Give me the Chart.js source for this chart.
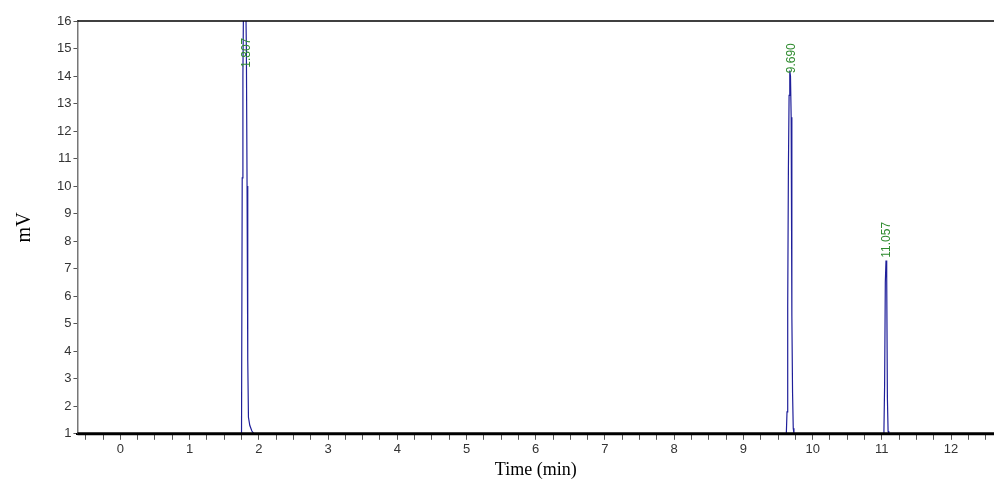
<!DOCTYPE html>
<html>
<head>
<meta charset="utf-8">
<script src="https://cdn.jsdelivr.net/npm/chart.js@4"></script>
<style>
  html, body { margin: 0; padding: 0; background: #fff; }
  #wrap { width: 994px; height: 489px; }
</style>
</head>
<body>
<div id="wrap"><canvas id="c"></canvas></div>
<script>
// signal trace, time (min) vs mV
var traceTime = [-0.62, 1.74, 1.75, 1.76, 1.77, 1.78, 1.80, 1.81, 1.82, 1.83, 1.84, 1.85, 1.87, 1.90, 1.93,
  9.62, 9.63, 9.64, 9.65, 9.66, 9.67, 9.68, 9.69, 9.70, 9.71, 9.72, 9.73,
  11.02, 11.03, 11.04, 11.05, 11.06, 11.07, 11.08, 11.09, 11.10, 12.62];
var traceMv = [1, 1, 1, 10.3, 14, 17, 18, 17, 15, 10, 3.7, 1.6, 1.3, 1.1, 1,
  1, 1.8, 5.6, 10.6, 13.3, 14.2, 14.0, 12.5, 5.3, 2.5, 1.2, 1,
  1, 1.1, 2.8, 6.5, 7.3, 6.7, 2.3, 1.1, 1, 1];

var peakTimes = [1.807, 9.690, 11.057];
var peakLabels = ['1.807', '9.690', '11.057'];
var peakTop = [14.3, 14.1, 7.4];

var xTicks = [0, 1, 2, 3, 4, 5, 6, 7, 8, 9, 10, 11, 12];
var yTicks = [1, 2, 3, 4, 5, 6, 7, 8, 9, 10, 11, 12, 13, 14, 15, 16];

var peakLabelPlugin = {
  id: 'peakLabels',
  afterDatasetsDraw: function (chart) {
    var ctx = chart.ctx;
    var xs = chart.scales.x, ys = chart.scales.y;
    ctx.save();
    ctx.fillStyle = '#2e8b2e';
    ctx.font = '12px "Liberation Sans Narrow", "Liberation Sans", sans-serif';
    ctx.textAlign = 'left';
    ctx.textBaseline = 'middle';
    peakTimes.forEach(function (t, i) {
      var px = xs.getPixelForValue(t) + 1;
      var py = ys.getPixelForValue(peakTop[i]);
      ctx.save();
      ctx.translate(px, py);
      ctx.rotate(-Math.PI / 2);
      ctx.fillText(peakLabels[i], 0, 0);
      ctx.restore();
    });
    ctx.restore();
  }
};

var frame = {
  id: 'frame',
  afterDraw: function (chart) {
    var a = chart.chartArea, ctx = chart.ctx;
    ctx.save();
    ctx.strokeStyle = '#000';
    ctx.lineWidth = 1.5;
    ctx.beginPath();
    ctx.moveTo(a.left, a.top);
    ctx.lineTo(a.right, a.top);
    ctx.stroke();
    ctx.lineWidth = 3;
    ctx.beginPath();
    ctx.moveTo(a.left, a.bottom);
    ctx.lineTo(a.right, a.bottom);
    ctx.stroke();
    ctx.restore();
  }
};

var points = traceTime.map(function (t, i) { return { x: t, y: traceMv[i] }; });
var tickFont = { family: '"Liberation Sans Narrow", "Liberation Sans", sans-serif', size: 13 };

new Chart(document.getElementById('c'), {
  type: 'scatter',
  data: {
    datasets: [{
      data: points,
      showLine: true,
      borderColor: '#1f1f9a',
      borderWidth: 1.2,
      pointRadius: 0,
      tension: 0
    }]
  },
  options: {
    responsive: true,
    maintainAspectRatio: false,
    animation: false,
    plugins: { legend: { display: false }, tooltip: { enabled: false } },
    layout: { padding: { top: 21, right: 0, left: 9, bottom: 4 } },
    scales: {
      x: {
        type: 'linear',
        min: -0.62,
        max: 12.62,
        afterBuildTicks: function (s) {
          var ticks = [];
          for (var v = -0.5; v <= 12.5; v += 0.25) ticks.push({ value: Math.round(v * 100) / 100 });
          s.ticks = ticks;
        },
        ticks: {
          autoSkip: false,
          maxRotation: 0,
          color: '#333',
          font: tickFont,
          padding: 2,
          callback: function (v) { return xTicks.indexOf(v) >= 0 ? String(v) : ''; }
        },
        grid: { drawOnChartArea: false, tickLength: 6, color: '#555' },
        border: { color: '#000', width: 2 },
        title: { display: true, text: 'Time (min)', color: '#000', padding: { top: 0 },
          font: { family: '"Liberation Serif", serif', size: 18 } }
      },
      y: {
        min: 1,
        max: 16,
        afterBuildTicks: function (s) {
          s.ticks = yTicks.map(function (v) { return { value: v }; });
        },
        ticks: { color: '#333', font: tickFont, padding: 2 },
        grid: { drawOnChartArea: false, tickLength: 4, color: '#555' },
        border: { color: '#777', width: 1.5, dash: [2, 1] },
        title: { display: true, text: 'mV', color: '#000', padding: { bottom: 18 },
          font: { family: '"Liberation Serif", serif', size: 20 } }
      }
    }
  },
  plugins: [peakLabelPlugin, frame]
});
</script>
</body>
</html>
